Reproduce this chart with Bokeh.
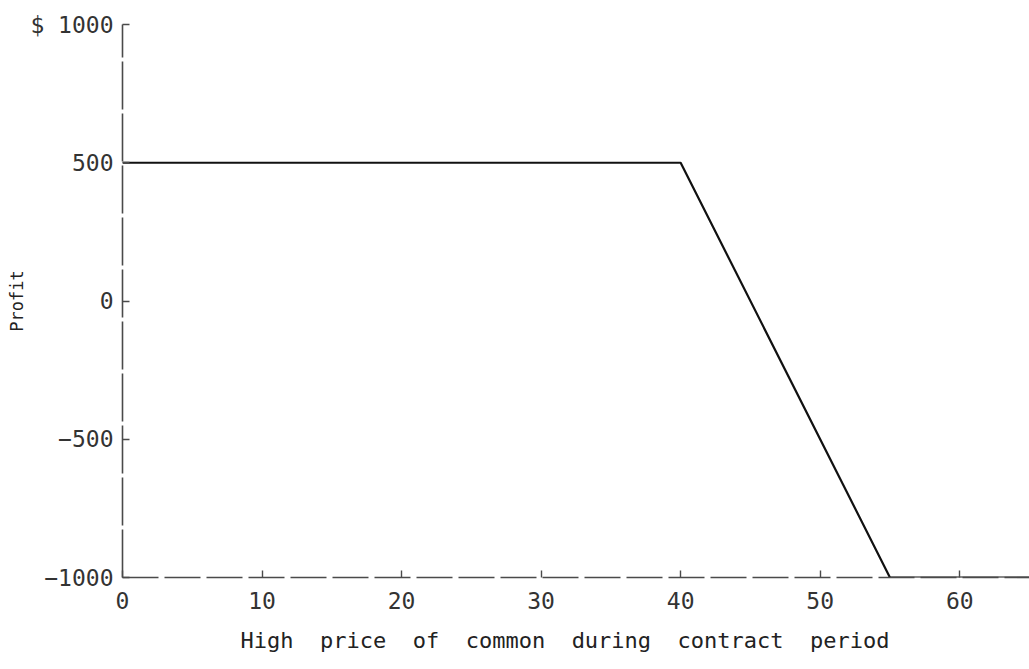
from bokeh.plotting import figure
from bokeh.models import Range1d, FixedTicker, Title
from bokeh.embed import file_html
from bokeh.resources import INLINE

# Data
price = [0, 40, 55, 65]
profit = [500, 500, -1000, -1000]
x_ticks = [0, 10, 20, 30, 40, 50, 60]
y_ticks = [-1000, -500, 0, 500, 1000]
y_labels = {1000: "$ 1000", 500: "500", 0: "0", -500: "\u2212500", -1000: "\u22121000"}
x_title = "High\u00a0 price\u00a0 of\u00a0 common\u00a0 during\u00a0 contract\u00a0 period"
y_title = "Profit"

p = figure(width=1029, height=669, output_backend="svg", toolbar_location=None,
           x_range=Range1d(0, 65.0), y_range=Range1d(-1000, 1000),
           min_border_left=122, min_border_right=0, min_border_top=24, min_border_bottom=92)
p.outline_line_color = None
p.xgrid.visible = False
p.ygrid.visible = False
p.background_fill_color = "white"

p.line(price, profit, line_color="#111111", line_width=2.2)

font = "DejaVu Sans Mono"
for ax in (p.xaxis[0], p.yaxis[0]):
    ax.axis_line_color = "#4a4a4a"
    ax.axis_line_width = 1.6
    ax.major_tick_line_color = "#4a4a4a"
    ax.major_tick_line_width = 1.4
    ax.major_tick_in = 7
    ax.major_tick_out = 0
    ax.minor_tick_line_color = None
    ax.major_label_text_font = font
    ax.major_label_text_color = "#333333"
    ax.major_label_text_font_size = "23px"
    ax.axis_label_text_font = font
    ax.axis_label_text_font_style = "normal"
    ax.axis_label_text_color = "#222222"

p.xaxis.ticker = FixedTicker(ticks=x_ticks)
p.yaxis.ticker = FixedTicker(ticks=y_ticks)
p.yaxis.major_label_overrides = y_labels
p.xaxis.axis_line_dash = "36 6"
p.yaxis.axis_line_dash = "48 4"
p.xaxis.major_label_standoff = 14
p.yaxis.major_label_standoff = 9

p.yaxis.axis_label = y_title
p.yaxis.axis_label_text_font_size = "17px"
p.yaxis.axis_label_standoff = 0

p.add_layout(Title(text=x_title, align="left", offset=118, standoff=29,
                   text_font=font, text_font_size="22px", text_font_style="normal",
                   text_color="#222222"), "below")

open("out.html", "w").write(file_html(p, INLINE))
